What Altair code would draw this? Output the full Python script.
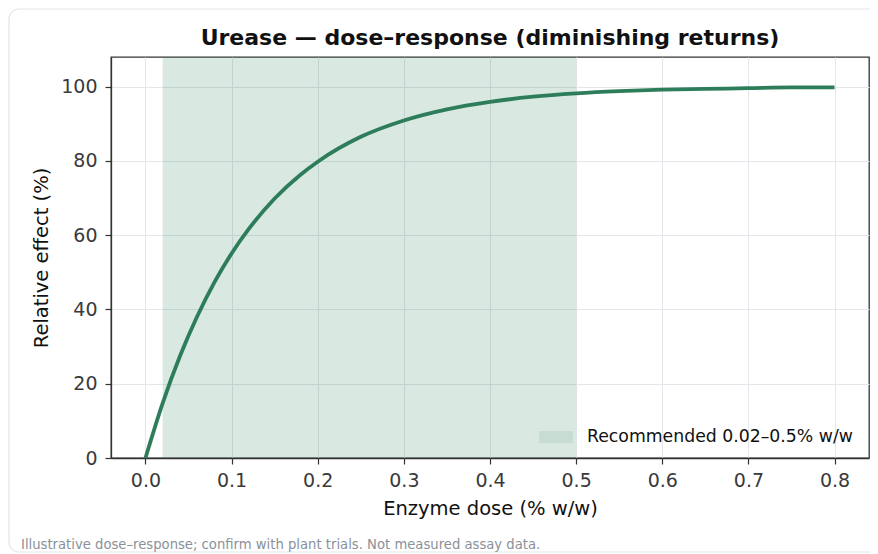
import altair as alt
import pandas as pd

# Data
dose = [0.0, 0.02, 0.04, 0.06, 0.08, 0.10, 0.12, 0.15, 0.18, 0.20, 0.25,
        0.30, 0.35, 0.40, 0.45, 0.50, 0.55, 0.60, 0.65, 0.70, 0.75, 0.80]
effect = [0.0, 14.8, 27.4, 38.1, 47.3, 55.1, 61.7, 69.9, 76.3, 79.8, 86.5,
          90.9, 93.9, 95.9, 97.3, 98.2, 98.8, 99.2, 99.4, 99.6, 99.8, 99.8]
band_start = [0.02]
band_end = [0.5]
band_label = ["Recommended 0.02–0.5% w/w"]
x_ticks = [0.0, 0.1, 0.2, 0.3, 0.4, 0.5, 0.6, 0.7, 0.8]
y_ticks = [0, 20, 40, 60, 80, 100]
title_text = ["Urease — dose–response (diminishing returns)"]
footnote = ["Illustrative dose–response; confirm with plant trials. Not measured assay data."]

GREEN = "#2e7d5a"
FONT = "DejaVu Sans"
W, H = 758, 401

curve_df = pd.DataFrame({"dose": dose, "effect": effect})
band_df = pd.DataFrame({"start": band_start, "end": band_end, "label": band_label})
foot_df = pd.DataFrame({"t": footnote})
title_df = pd.DataFrame({"t": title_text})

xscale = alt.Scale(domain=[-0.04, 0.84], nice=False, zero=False)
yscale = alt.Scale(domain=[0, 108], nice=False)

card = alt.Chart(foot_df).mark_rect(
    fillOpacity=0, stroke="#e2e6ea", strokeWidth=1.2, cornerRadius=10
).encode(
    x=alt.value(-102), x2=alt.value(W + 40),
    y=alt.value(-48), y2=alt.value(495),
)

band = alt.Chart(band_df).mark_rect(opacity=0.18).encode(
    x=alt.X("start:Q", scale=xscale,
            axis=alt.Axis(values=x_ticks, format=".1f", title="Enzyme dose (% w/w)")),
    x2="end:Q",
    fill=alt.Fill("label:N", scale=alt.Scale(range=[GREEN]),
                  legend=alt.Legend(
                      title=None, orient="none", legendX=428, legendY=363,
                      symbolType="M-1,-0.35L1,-0.35L1,0.35L-1,0.35Z",
                      symbolSize=1156, symbolOpacity=0.1, symbolStrokeWidth=0,
                      labelFontSize=17.3, labelFont=FONT, labelColor="#111",
                      labelOffset=14, labelLimit=0, padding=0)),
)

line = alt.Chart(curve_df).mark_line(
    color=GREEN, strokeWidth=3.8, interpolate="monotone"
).encode(
    x=alt.X("dose:Q", scale=xscale),
    y=alt.Y("effect:Q", scale=yscale,
            axis=alt.Axis(values=y_ticks, title="Relative effect (%)")),
)

foot = alt.Chart(foot_df).mark_text(
    align="left", baseline="alphabetic", fontSize=13.2, font=FONT, color="#8a9199"
).encode(
    x=alt.value(-90), y=alt.value(492), text="t:N"
)

title = alt.Chart(title_df).mark_text(
    align="center", baseline="alphabetic", fontSize=22, font=FONT,
    fontWeight="bold", color="#111"
).encode(
    x=alt.value(W / 2), y=alt.value(-12), text="t:N"
)

chart = alt.layer(card, band, line, foot, title).properties(
    width=W, height=H,
    autosize=alt.AutoSizeParams(type="none"),
    padding={"left": 103, "top": 49, "right": 1, "bottom": 96},
).configure_view(
    stroke="#333", strokeWidth=1.3
).configure_axis(
    labelFont=FONT, titleFont=FONT, labelFontSize=19, titleFontSize=19.5,
    labelColor="#3a3a3a", titleColor="#111", titleFontWeight="normal",
    domainColor="#333", domainWidth=1.3, tickColor="#333", tickSize=6,
    tickWidth=1.2, gridColor="#e3e6ea", gridWidth=1,
).configure_axisX(
    labelPadding=7, titlePadding=9
).configure_axisY(
    labelPadding=8, titlePadding=9
)

chart.save("out.html", embed_options={"renderer": "svg", "actions": False})
